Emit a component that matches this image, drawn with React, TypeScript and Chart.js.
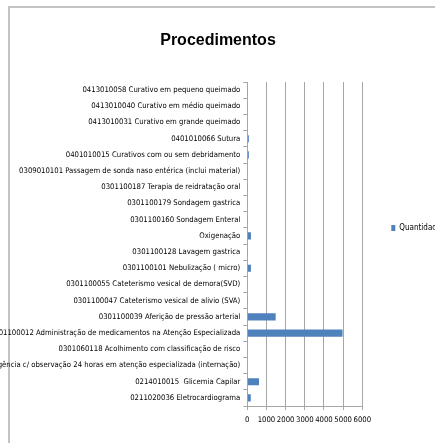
import React, { useEffect, useRef } from "react";
import { Chart, registerables } from "chart.js";

Chart.register(...registerables);

const chartTitle = "Procedimentos";
const seriesLabel = "Quantidade";

const categories = [
  "0413010058 Curativo em pequeno queimado",
  "0413010040 Curativo em médio queimado",
  "0413010031 Curativo em grande queimado",
  "0401010066 Sutura",
  "0401010015 Curativos com ou sem debridamento",
  "0309010101 Passagem de sonda naso entérica (inclui material)",
  "0301100187 Terapia de reidratação oral",
  "0301100179 Sondagem gastrica",
  "0301100160 Sondagem Enteral",
  "Oxigenação",
  "0301100128 Lavagem gastrica",
  "0301100101 Nebulização ( micro)",
  "0301100055 Cateterismo vesical de demora(SVD)",
  "0301100047 Cateterismo vesical de alivio (SVA)",
  "0301100039 Aferição de pressão arterial",
  "0301100012 Administração de medicamentos na Atenção Especializada",
  "0301060118 Acolhimento com classificação de risco",
  "0301060029 Atendimento de urgência c/ observação 24 horas em atenção especializada (internação)",
  "0214010015  Glicemia Capilar",
  "0211020036 Eletrocardiograma",
];

const quantidade = [
  20, 0, 0, 80, 80, 0, 20, 25, 20, 190, 20, 190, 25, 20, 1480, 4970, 0, 0, 610, 180,
];

const xTickValues = [0, 1000, 2000, 3000, 4000, 5000, 6000];

const FONT = "'DejaVu Sans Condensed', 'DejaVu Sans', sans-serif";
const FSIZE = 7.7;
const GRID = "#a6a6a6";

export default function App() {
  const ref = useRef<HTMLCanvasElement>(null);

  useEffect(() => {
    if (!ref.current) return;
    const chart = new Chart(ref.current, {
      type: "bar",
      data: {
        labels: categories,
        datasets: [
          {
            label: seriesLabel,
            data: quantidade,
            backgroundColor: "#4F81BD",
            borderWidth: 0,
            barPercentage: 0.44,
            categoryPercentage: 1,
          },
        ],
      },
      options: {
        indexAxis: "y",
        animation: false,
        responsive: false,
        devicePixelRatio: 1,
        layout: { padding: 0 },
        plugins: {
          title: {
            display: true,
            text: chartTitle,
            color: "#000",
            font: { family: "'Liberation Sans', Arial, sans-serif", size: 16, weight: "bold" },
            padding: { top: 30.6, bottom: 32.2 },
          },
          legend: {
            display: true,
            position: "right",
            maxWidth: 73.7,
            labels: {
              boxWidth: 4,
              boxHeight: 6,
              padding: 29,
              color: "#000",
              font: { family: FONT, size: 8 },
            },
          },
          tooltip: { enabled: false },
        },
        scales: {
          x: {
            type: "linear",
            min: 0,
            max: 6000,
            afterBuildTicks: (scale: any) => {
              scale.ticks = xTickValues.map((v) => ({ value: v }));
            },
            afterFit: (scale: any) => {
              scale.height = 50;
            },
            grid: {
              color: GRID,
              lineWidth: 1,
              drawTicks: true,
              tickLength: 4,
            },
            border: { display: true, color: GRID },
            ticks: {
              color: "#000",
              padding: 5,
              maxRotation: 0,
              autoSkip: false,
              font: { family: FONT, size: FSIZE },
              callback: (v: any) => String(v),
            },
          },
          y: {
            type: "category",
            afterFit: (scale: any) => {
              scale.width = 247.3;
            },
            grid: {
              display: true,
              drawOnChartArea: false,
              drawTicks: true,
              tickLength: 4,
              offset: true,
              color: GRID,
            },
            border: { display: true, color: GRID },
            ticks: {
              color: "#000",
              padding: 3,
              autoSkip: false,
              font: { family: FONT, size: FSIZE },
            },
          },
        },
      },
    });
    return () => chart.destroy();
  }, []);

  return (
    <div
      style={{
        position: "absolute",
        left: 0,
        top: 0,
        width: 435,
        height: 443,
        overflow: "hidden",
        background: "#fff",
      }}
    >
      <div
        style={{
          position: "absolute",
          left: 8,
          top: 6,
          width: 600,
          height: 600,
          borderTop: "2px solid #c4c4c4",
          borderLeft: "2px solid #c4c4c4",
        }}
      />
      <canvas
        ref={ref}
        width={436}
        height={456}
        style={{ position: "absolute", left: 0, top: 0, width: 436, height: 456 }}
      />
    </div>
  );
}
